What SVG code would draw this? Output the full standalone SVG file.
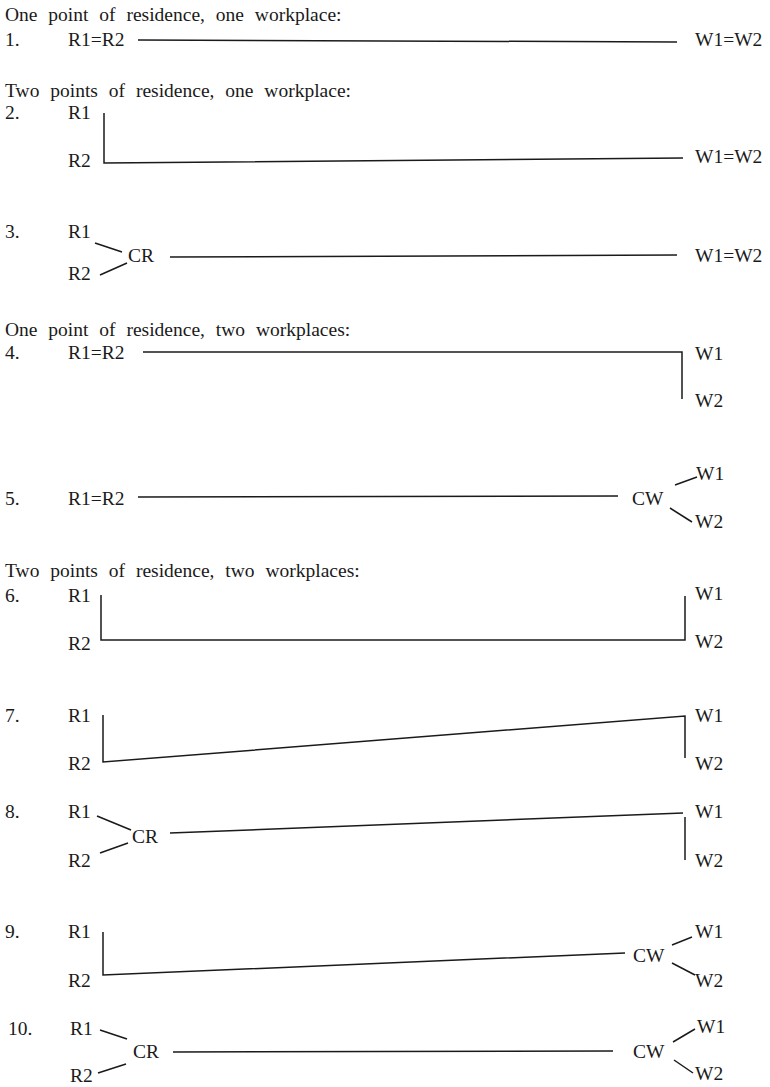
<svg xmlns="http://www.w3.org/2000/svg" width="770" height="1087" viewBox="0 0 770 1087">
<style>
text{font-family:"Liberation Serif",Tinos,"Times New Roman","DejaVu Serif",serif;font-size:19.5px;fill:#1a1a1a}
.h{word-spacing:6px}
.c line,.c polyline{stroke:#1a1a1a;stroke-width:1.5;fill:none}
</style>
<rect width="770" height="1087" fill="#fff"/>
<g id="headers">
<text class="h" x="5" y="21">One point of residence, one workplace:</text>
<text class="h" x="5" y="97">Two points of residence, one workplace:</text>
<text class="h" x="5" y="336">One point of residence, two workplaces:</text>
<text class="h" x="5" y="577">Two points of residence, two workplaces:</text>
</g>
<g id="numbers">
<text x="5" y="46">1.</text>
<text x="5" y="119">2.</text>
<text x="5" y="238">3.</text>
<text x="5" y="359">4.</text>
<text x="5" y="505">5.</text>
<text x="5" y="602">6.</text>
<text x="5" y="722">7.</text>
<text x="5" y="818">8.</text>
<text x="5" y="938">9.</text>
<text x="8" y="1035">10.</text>
</g>
<g id="row1"><text x="68" y="46">R1=R2</text><text x="695" y="46">W1=W2</text></g>
<g id="row2"><text x="68" y="119">R1</text><text x="68" y="167">R2</text><text x="695" y="163">W1=W2</text></g>
<g id="row3"><text x="68" y="238">R1</text><text x="68" y="280">R2</text><text x="128" y="262">CR</text><text x="695" y="262">W1=W2</text></g>
<g id="row4"><text x="68" y="359">R1=R2</text><text x="695" y="360">W1</text><text x="695" y="407">W2</text></g>
<g id="row5"><text x="68" y="505">R1=R2</text><text x="632" y="505">CW</text><text x="696" y="480">W1</text><text x="695" y="528">W2</text></g>
<g id="row6"><text x="68" y="602">R1</text><text x="68" y="650">R2</text><text x="695" y="600">W1</text><text x="695" y="648">W2</text></g>
<g id="row7"><text x="68" y="722">R1</text><text x="68" y="770">R2</text><text x="695" y="722">W1</text><text x="695" y="770">W2</text></g>
<g id="row8"><text x="68" y="818">R1</text><text x="68" y="867">R2</text><text x="132" y="843">CR</text><text x="695" y="818">W1</text><text x="695" y="867">W2</text></g>
<g id="row9"><text x="68" y="938">R1</text><text x="68" y="987">R2</text><text x="633" y="962">CW</text><text x="695" y="938">W1</text><text x="695" y="987">W2</text></g>
<g id="row10"><text x="70" y="1035">R1</text><text x="70" y="1082">R2</text><text x="133" y="1058">CR</text><text x="633" y="1058">CW</text><text x="697" y="1033">W1</text><text x="695" y="1080">W2</text></g>
<g id="connectors" class="c">
<line x1="138" y1="40" x2="677" y2="42"/>
<polyline points="104,113 104,163 683,158"/>
<line x1="95" y1="243" x2="122" y2="252"/>
<line x1="100" y1="275" x2="127" y2="263"/>
<line x1="170" y1="257" x2="677" y2="255"/>
<polyline points="143,352 682,352 682,399"/>
<line x1="138" y1="497" x2="618" y2="496"/>
<line x1="675" y1="485" x2="697" y2="477"/>
<line x1="670" y1="508" x2="692" y2="522"/>
<polyline points="101,595 101,640 685,640 685,596"/>
<polyline points="103,715 103,762 685,716 685,758"/>
<line x1="97" y1="816" x2="131" y2="830"/>
<line x1="100" y1="853" x2="128" y2="843"/>
<polyline points="170,833 683,813"/>
<line x1="685" y1="817" x2="685" y2="860"/>
<polyline points="103,932 103,975 625,953"/>
<line x1="672" y1="945" x2="692" y2="937"/>
<line x1="672" y1="963" x2="695" y2="975"/>
<line x1="100" y1="1030" x2="127" y2="1039"/>
<line x1="98" y1="1073" x2="126" y2="1064"/>
<line x1="173" y1="1052" x2="613" y2="1051"/>
<line x1="673" y1="1042" x2="695" y2="1029"/>
<line x1="674" y1="1060" x2="693" y2="1073"/>
</g>
</svg>
